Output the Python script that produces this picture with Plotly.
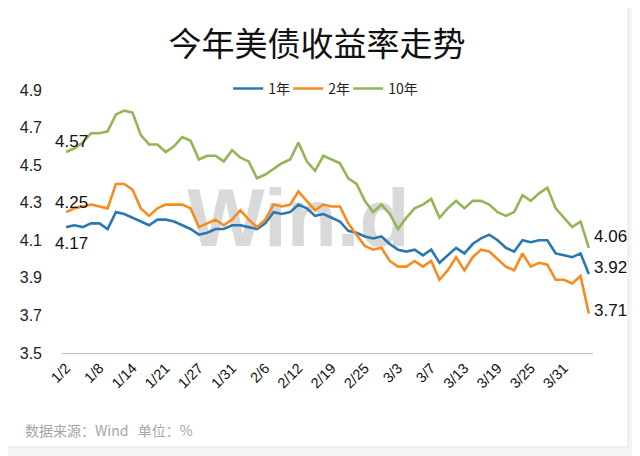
import plotly.graph_objects as go

dates = ["1/2", "1/3", "1/6", "1/7", "1/8", "1/9", "1/10", "1/13", "1/14", "1/15", "1/16", "1/17",
         "1/21", "1/22", "1/23", "1/24", "1/27", "1/28", "1/29", "1/30", "1/31",
         "2/3", "2/4", "2/5", "2/6", "2/7", "2/10", "2/11", "2/12", "2/13", "2/14", "2/18", "2/19",
         "2/20", "2/21", "2/24", "2/25", "2/26", "2/27", "2/28",
         "3/3", "3/4", "3/5", "3/6", "3/7", "3/10", "3/11", "3/12", "3/13", "3/14", "3/17", "3/18",
         "3/19", "3/20", "3/21", "3/24", "3/25", "3/26", "3/27", "3/28", "3/31",
         "4/1", "4/2", "4/3"]

yield_1y = [4.17, 4.18, 4.17, 4.19, 4.19, 4.16, 4.25, 4.24, 4.22, 4.20, 4.18, 4.21, 4.21, 4.20, 4.18, 4.16,
            4.13, 4.14, 4.16, 4.16, 4.18, 4.18, 4.17, 4.16, 4.19, 4.25, 4.24, 4.25, 4.29, 4.27, 4.23, 4.24,
            4.22, 4.20, 4.15, 4.14, 4.12, 4.11, 4.12, 4.08, 4.05, 4.04, 4.05, 4.02, 4.05, 3.98, 4.02, 4.06,
            4.03, 4.08, 4.11, 4.13, 4.10, 4.06, 4.04, 4.10, 4.09, 4.10, 4.10, 4.03, 4.02, 4.01, 4.03, 3.92]

yield_2y = [4.25, 4.27, 4.28, 4.29, 4.28, 4.27, 4.40, 4.40, 4.37, 4.27, 4.23, 4.27, 4.29, 4.29, 4.29, 4.27,
            4.17, 4.19, 4.21, 4.18, 4.21, 4.26, 4.21, 4.17, 4.21, 4.29, 4.28, 4.29, 4.36, 4.31, 4.26, 4.29,
            4.28, 4.28, 4.19, 4.13, 4.07, 4.05, 4.06, 3.99, 3.96, 3.96, 3.99, 3.96, 3.99, 3.89, 3.94, 4.01,
            3.94, 4.01, 4.05, 4.04, 4.00, 3.96, 3.94, 4.03, 3.96, 3.98, 3.97, 3.89, 3.89, 3.87, 3.91, 3.71]

yield_10y = [4.57, 4.59, 4.62, 4.67, 4.67, 4.68, 4.77, 4.79, 4.78, 4.66, 4.61, 4.61, 4.57, 4.60, 4.65, 4.63,
             4.53, 4.55, 4.55, 4.52, 4.58, 4.54, 4.52, 4.43, 4.45, 4.48, 4.51, 4.53, 4.62, 4.52, 4.47, 4.55,
             4.53, 4.51, 4.43, 4.40, 4.31, 4.25, 4.29, 4.24, 4.16, 4.22, 4.27, 4.29, 4.32, 4.22, 4.27, 4.31,
             4.27, 4.31, 4.31, 4.29, 4.25, 4.23, 4.25, 4.34, 4.31, 4.35, 4.38, 4.27, 4.22, 4.17, 4.20, 4.06]

series_names = ["1年", "2年", "10年"]
series_colors = ["#2a78b0", "#f68b1f", "#93b553"]
tick_labels = dates[::4]

NUM_FONT = "Arial, Liberation Sans, sans-serif"
CJK_FONT = "Noto Sans CJK SC, sans-serif"

fig = go.Figure()

# watermark (decoration) first, so it sits beneath the series lines
fig.add_trace(go.Scatter(
    x=[dates[28]], y=[4.18], mode="text", text=["Win.d"],
    textfont=dict(family=NUM_FONT, size=82, color="#d9d9d9", weight="bold"),
    hoverinfo="skip", showlegend=False))

legend_ids = ["legend", "legend2", "legend3"]
for name, vals, col, lg in zip(series_names, [yield_1y, yield_2y, yield_10y], series_colors, legend_ids):
    fig.add_trace(go.Scatter(x=dates, y=vals, mode="lines", name=name, legend=lg,
                             line=dict(color=col, width=2.6)))

# data labels (start / end values)
start_shift = {"1年": (5, -16), "2年": (5, 10), "10年": (5, 10)}
end_shift = {"1年": 7, "2年": 3, "10年": 11}
for name, vals in zip(series_names, [yield_1y, yield_2y, yield_10y]):
    xs, ys = start_shift[name]
    fig.add_annotation(x=dates[0], y=vals[0], text=f"{vals[0]:.2f}", showarrow=False,
                       xanchor="center", yanchor="middle", xshift=xs, yshift=ys,
                       font=dict(family=NUM_FONT, size=17, color="#111111"))
    fig.add_annotation(x=dates[-1], y=vals[-1], text=f"{vals[-1]:.2f}", showarrow=False,
                       xanchor="left", yanchor="middle", xshift=3, yshift=end_shift[name],
                       font=dict(family=NUM_FONT, size=17, color="#111111"))

# footer
fig.add_annotation(xref="paper", yref="paper", x=-0.074, y=-0.293, xanchor="left", yanchor="middle",
                   text="数据来源：Wind   单位：%", showarrow=False,
                   font=dict(family=CJK_FONT, size=14, color="#a6a6a6"))

# card background
fig.add_shape(type="rect", xref="paper", yref="paper", x0=-0.13, x1=1.066, y0=-0.357, y1=1.36,
              fillcolor="white", line=dict(color="#e4e4e4", width=1), layer="below")

legend_common = dict(orientation="h", xanchor="left", y=1.004, yanchor="middle",
                     font=dict(family=CJK_FONT, size=14, color="#222222"),
                     bgcolor="rgba(0,0,0,0)", itemwidth=30)

fig.update_layout(
    width=640, height=456,
    margin=dict(l=54, r=55, t=82, b=111),
    paper_bgcolor="#f5f5f5", plot_bgcolor="rgba(0,0,0,0)",
    title=dict(text="今年美债收益率走势", x=0.483, xanchor="center", y=0.919, yanchor="middle",
               font=dict(family=CJK_FONT, size=33, color="#111111")),
    legend=dict(x=0.313, **legend_common),
    legend2=dict(x=0.426, **legend_common),
    legend3=dict(x=0.539, **legend_common),
    showlegend=True,
)

fig.update_xaxes(type="category", categoryorder="array", categoryarray=dates,
                 range=[-0.5, len(dates) - 0.5],
                 tickmode="array", tickvals=tick_labels, ticktext=tick_labels,
                 tickangle=-45, showgrid=False, zeroline=False,
                 showline=True, linecolor="#bfbfbf", linewidth=1.2, ticks="",
                 tickfont=dict(family=NUM_FONT, size=14.5, color="#111111"))
fig.update_yaxes(range=[3.5, 4.9], dtick=0.2, tick0=3.5, showgrid=False, zeroline=False,
                 showline=False, ticks="", ticklabelstandoff=19, tickformat=".1f",
                 tickfont=dict(family=NUM_FONT, size=16, color="#222222"))

fig.write_html("out.html")
